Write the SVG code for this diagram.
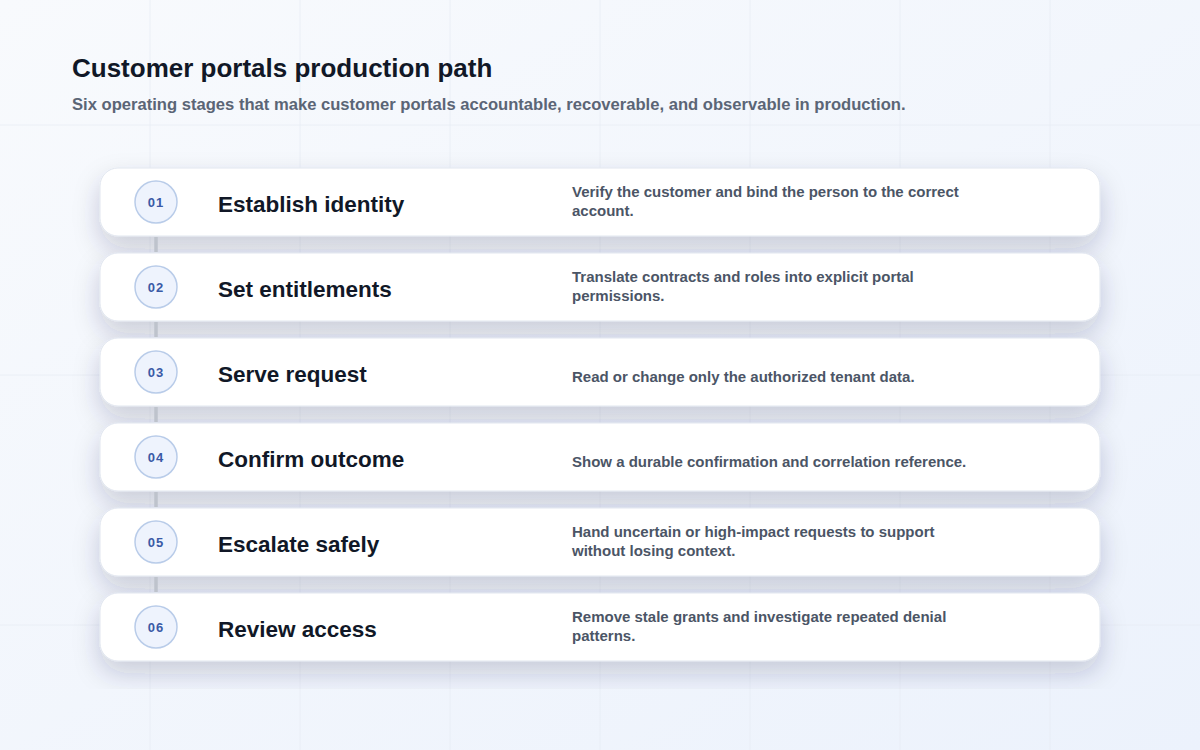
<svg xmlns="http://www.w3.org/2000/svg" width="1200" height="750" viewBox="0 0 1200 750">
  <defs>
    <linearGradient id="bg" x1="0" y1="0" x2="1" y2="1">
      <stop offset="0" stop-color="#f8fafd"/>
      <stop offset="1" stop-color="#ecf2fc"/>
    </linearGradient>
    <filter id="shadow" x="-10%" y="-50%" width="120%" height="190%">
      <feDropShadow dx="0" dy="12" stdDeviation="13" flood-color="#1e2b50" flood-opacity="0.2"/>
    </filter>
    <style>
      .grid { stroke: #e6ebf3; stroke-width: 1; opacity: 0.7; }
      .card { fill: #ffffff; stroke: #e1e6ef; stroke-width: 1; filter: url(#shadow); }
      .badge { fill: #eef3fd; stroke: #b9cce9; stroke-width: 1.5; }
      .num { font-family: "Liberation Sans", Arial, sans-serif; font-size: 13px; font-weight: bold; fill: #3a5aa6; text-anchor: middle; letter-spacing: 1px; }
      .step { font-family: "Liberation Sans", Arial, sans-serif; font-size: 22.5px; font-weight: bold; fill: #111827; }
      .desc { font-family: "Liberation Sans", Arial, sans-serif; font-size: 15px; font-weight: bold; fill: #4b5566; }
      .title { font-family: "Liberation Sans", Arial, sans-serif; font-size: 26px; font-weight: bold; fill: #111827; }
      .subtitle { font-family: "Liberation Sans", Arial, sans-serif; font-size: 16.6px; font-weight: bold; fill: #5b6576; }
      .conn { stroke: #bec3cc; stroke-width: 3.5; }
    </style>
  </defs>

  <rect x="0" y="0" width="1200" height="750" fill="url(#bg)"/>
  <g id="grid">
    <line class="grid" x1="150" y1="0" x2="150" y2="750"/>
    <line class="grid" x1="300" y1="0" x2="300" y2="750"/>
    <line class="grid" x1="450" y1="0" x2="450" y2="750"/>
    <line class="grid" x1="600" y1="0" x2="600" y2="750"/>
    <line class="grid" x1="750" y1="0" x2="750" y2="750"/>
    <line class="grid" x1="900" y1="0" x2="900" y2="750"/>
    <line class="grid" x1="1050" y1="0" x2="1050" y2="750"/>
    <line class="grid" x1="0" y1="125" x2="1200" y2="125"/>
    <line class="grid" x1="0" y1="375" x2="1200" y2="375"/>
    <line class="grid" x1="0" y1="625" x2="1200" y2="625"/>
  </g>

  <g id="header">
    <text class="title" x="72" y="77">Customer portals production path</text>
    <text class="subtitle" x="72" y="110">Six operating stages that make customer portals accountable, recoverable, and observable in production.</text>
  </g>

  <g id="step1">
    <rect class="card" x="100" y="168" width="1000" height="68" rx="18"/>
    <circle class="badge" cx="156" cy="202" r="21"/>
    <text class="num" x="156" y="207">01</text>
    <text class="step" x="218" y="212">Establish identity</text>
    <text class="desc" x="572" y="197">Verify the customer and bind the person to the correct</text>
    <text class="desc" x="572" y="216">account.</text>
  </g>

  <g id="step2">
    <rect class="card" x="100" y="253" width="1000" height="68" rx="18"/>
    <circle class="badge" cx="156" cy="287" r="21"/>
    <text class="num" x="156" y="292">02</text>
    <text class="step" x="218" y="297">Set entitlements</text>
    <text class="desc" x="572" y="282">Translate contracts and roles into explicit portal</text>
    <text class="desc" x="572" y="301">permissions.</text>
  </g>

  <g id="step3">
    <rect class="card" x="100" y="338" width="1000" height="68" rx="18"/>
    <circle class="badge" cx="156" cy="372" r="21"/>
    <text class="num" x="156" y="377">03</text>
    <text class="step" x="218" y="382">Serve request</text>
    <text class="desc" x="572" y="382">Read or change only the authorized tenant data.</text>
  </g>

  <g id="step4">
    <rect class="card" x="100" y="423" width="1000" height="68" rx="18"/>
    <circle class="badge" cx="156" cy="457" r="21"/>
    <text class="num" x="156" y="462">04</text>
    <text class="step" x="218" y="467">Confirm outcome</text>
    <text class="desc" x="572" y="467">Show a durable confirmation and correlation reference.</text>
  </g>

  <g id="step5">
    <rect class="card" x="100" y="508" width="1000" height="68" rx="18"/>
    <circle class="badge" cx="156" cy="542" r="21"/>
    <text class="num" x="156" y="547">05</text>
    <text class="step" x="218" y="552">Escalate safely</text>
    <text class="desc" x="572" y="537">Hand uncertain or high-impact requests to support</text>
    <text class="desc" x="572" y="556">without losing context.</text>
  </g>

  <g id="step6">
    <rect class="card" x="100" y="593" width="1000" height="68" rx="18"/>
    <circle class="badge" cx="156" cy="627" r="21"/>
    <text class="num" x="156" y="632">06</text>
    <text class="step" x="218" y="637">Review access</text>
    <text class="desc" x="572" y="622">Remove stale grants and investigate repeated denial</text>
    <text class="desc" x="572" y="641">patterns.</text>
  </g>

  <g id="connectors">
    <line class="conn" x1="156" y1="237" x2="156" y2="252"/>
    <line class="conn" x1="156" y1="322" x2="156" y2="337"/>
    <line class="conn" x1="156" y1="407" x2="156" y2="422"/>
    <line class="conn" x1="156" y1="492" x2="156" y2="507"/>
    <line class="conn" x1="156" y1="577" x2="156" y2="592"/>
  </g>
</svg>
